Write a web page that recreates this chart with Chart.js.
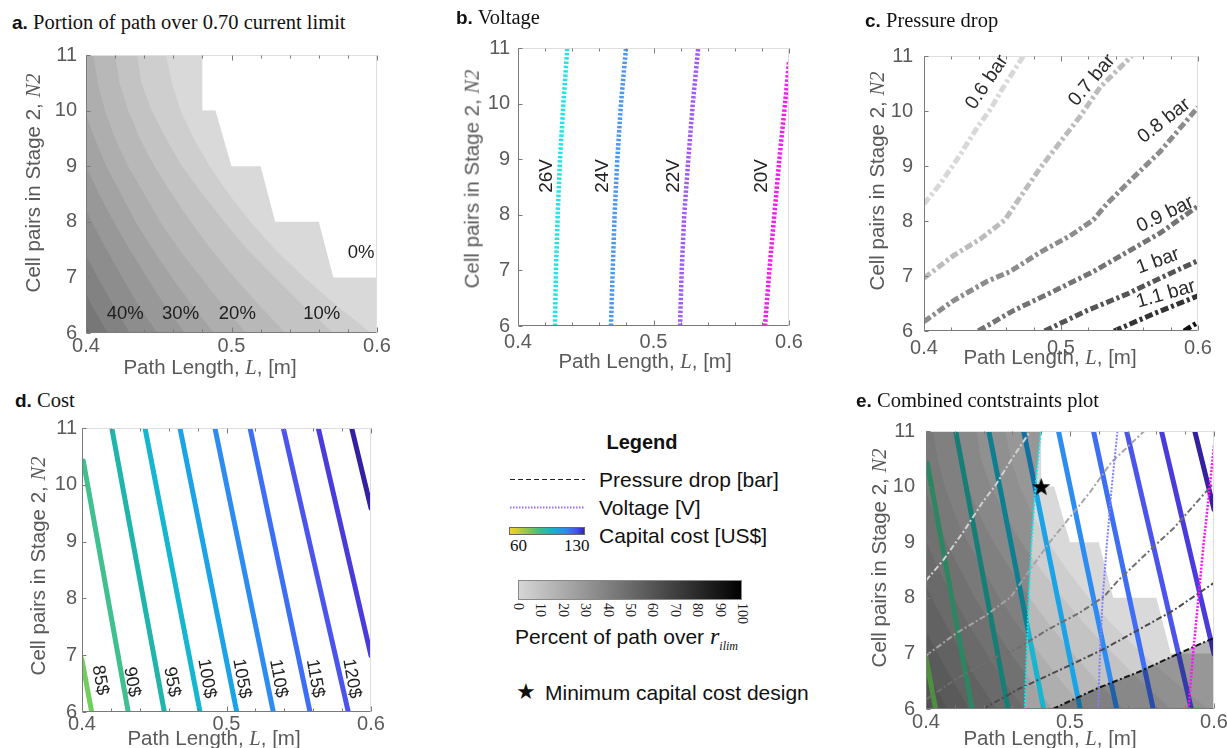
<!DOCTYPE html>
<html>
<head>
<meta charset="utf-8">
<title>Stage 2 design constraints</title>
<script src="https://cdn.jsdelivr.net/npm/chart.js@4.4.1/dist/chart.umd.min.js"></script>
<style>
  html, body { margin: 0; background: #fff; }
  #fig { position: relative; width: 1227px; height: 748px; overflow: hidden;
         font-family: "Liberation Sans", Arial, sans-serif; color: #111; }
  #fig canvas { position: absolute; z-index: 1; }
  .txt { position: absolute; white-space: nowrap; line-height: 1; z-index: 2; }
  .ttl { font-family: "Liberation Serif", "Times New Roman", serif; font-size: 20.5px; color: #111; }
  .ttl b { font-family: "Liberation Sans", Arial, sans-serif; font-size: 19px; }
  .ser { font-family: "Liberation Serif", "Times New Roman", serif; font-style: italic; }
  .ax { font-size: 20.5px; color: #595959; transform: translate(-50%, -50%); }
  .ay { font-size: 20.5px; color: #595959; transform: translate(-50%, -50%) rotate(-90deg); }
  .lg { font-size: 21px; color: #111; transform: translateY(-50%); }
  .cbt { font-family: "Liberation Serif", "Times New Roman", serif; font-size: 14px; color: #222;
         writing-mode: vertical-rl; transform: translateX(-50%); }
</style>
</head>
<body>
<div id="fig">
  <!-- panel titles -->
  <div class="txt ttl" style="left:12px;top:12px"><b>a.</b> Portion of path over 0.70 current limit</div>
  <div class="txt ttl" style="left:456px;top:7px"><b>b.</b> Voltage</div>
  <div class="txt ttl" style="left:865px;top:10px"><b>c.</b> Pressure drop</div>
  <div class="txt ttl" style="left:15px;top:390px"><b>d.</b> Cost</div>
  <div class="txt ttl" style="left:856px;top:390px"><b>e.</b> Combined contstraints plot</div>

  <!-- axis titles -->
  <div class="txt ax" style="left:210px;top:367px">Path Length, <span class="ser">L</span>, [m]</div>
  <div class="txt ay" style="left:33px;top:183px">Cell pairs in Stage 2, <span class="ser">N2</span></div>
  <div class="txt ax" style="left:645px;top:361px">Path Length, <span class="ser">L</span>, [m]</div>
  <div class="txt ay" style="left:472px;top:179px">Cell pairs in Stage 2, <span class="ser">N2</span></div>
  <div class="txt ax" style="left:1050px;top:357px">Path Length, <span class="ser">L</span>, [m]</div>
  <div class="txt ay" style="left:877px;top:181px">Cell pairs in Stage 2, <span class="ser">N2</span></div>
  <div class="txt ax" style="left:214px;top:738px">Path Length, <span class="ser">L</span>, [m]</div>
  <div class="txt ay" style="left:38px;top:566px">Cell pairs in Stage 2, <span class="ser">N2</span></div>
  <div class="txt ax" style="left:1050px;top:738px">Path Length, <span class="ser">L</span>, [m]</div>
  <div class="txt ay" style="left:879px;top:558px">Cell pairs in Stage 2, <span class="ser">N2</span></div>

  <!-- legend -->
  <div class="txt" style="left:642px;top:442px;transform:translate(-50%,-50%);font-weight:bold;font-size:20px">Legend</div>
  <svg class="txt" style="left:505px;top:470px" width="90" height="50">
    <line x1="5" y1="9.5" x2="80" y2="9.5" stroke="#222" stroke-width="1.2" stroke-dasharray="5 3"/>
    <line x1="5" y1="37.5" x2="80" y2="37.5" stroke="#9a6cff" stroke-width="2" stroke-dasharray="1.5 1.5"/>
  </svg>
  <div class="txt lg" style="left:599px;top:479px">Pressure drop [bar]</div>
  <div class="txt lg" style="left:599px;top:507px">Voltage [V]</div>
  <div class="txt lg" style="left:599px;top:535px">Capital cost [US$]</div>
  <div class="txt" style="left:509px;top:527px;width:76px;height:8px;box-sizing:border-box;border:1px solid #666;
       background:linear-gradient(to right,#f9d423,#9cc843 20%,#3dbf86 40%,#14b3c4 58%,#2b8cf0 75%,#4552e8 90%,#3526a6)"></div>
  <div class="txt ser" style="left:510px;top:537px;font-size:17px;font-style:normal">60</div>
  <div class="txt ser" style="left:564px;top:537px;font-size:17px;font-style:normal">130</div>
  <div class="txt" style="left:518px;top:580px;width:224px;height:20px;box-sizing:border-box;border:1px solid #888;
       background:linear-gradient(to right,#d6d6d6,#000)"></div>
  <div id="cbticks"></div>
  <div class="txt lg" style="left:515px;top:638px">Percent of path over <span class="ser" style="font-size:24px">r</span><sub class="ser" style="font-size:12px">ilim</sub></div>
  <div class="txt lg" style="left:516px;top:692px;font-size:22px">&#9733;</div>
  <div class="txt lg" style="left:545px;top:692px">Minimum capital cost design</div>
</div>

<script>
// ---------- axes ----------
const X_TICKS = [0.4, 0.5, 0.6];
const Y_TICKS = [6, 7, 8, 9, 10, 11];
const CB_TICKS = [0, 10, 20, 30, 40, 50, 60, 70, 80, 90, 100];

// ---------- a. portion of path over current limit (contour bands) ----------
const ZERO_EDGE_N = [11, 10, 10, 9, 9, 8, 8, 7, 7, 6];
const ZERO_EDGE_L = [0.48, 0.48, 0.489, 0.50, 0.52, 0.53, 0.56, 0.57, 0.60, 0.60];
const CONTOUR_N = [11, 10.5, 10, 9.5, 9, 8.5, 8, 7.5, 7, 6.5, 6];
const CONTOUR_LEVELS = [5, 10, 15, 20, 25, 30, 35, 40, 45, 50];
const C05_L = [0.455, 0.459, 0.465, 0.474, 0.485, 0.498, 0.513, 0.530, 0.550, 0.572, 0.596];
const C10_L = [0.435, 0.438, 0.445, 0.455, 0.466, 0.480, 0.495, 0.511, 0.530, 0.549, 0.570];
const C15_L = [0.420, 0.423, 0.429, 0.437, 0.447, 0.459, 0.472, 0.486, 0.502, 0.519, 0.537];
const C20_L = [0.405, 0.408, 0.413, 0.420, 0.429, 0.440, 0.451, 0.464, 0.479, 0.494, 0.510];
const C25_L = [0.392, 0.394, 0.399, 0.406, 0.414, 0.424, 0.434, 0.446, 0.459, 0.473, 0.488];
const C30_L = [0.380, 0.382, 0.387, 0.393, 0.400, 0.409, 0.419, 0.430, 0.442, 0.454, 0.468];
const C35_L = [0.368, 0.370, 0.374, 0.380, 0.387, 0.395, 0.404, 0.414, 0.425, 0.436, 0.449];
const C40_L = [0.356, 0.358, 0.362, 0.367, 0.373, 0.380, 0.389, 0.398, 0.408, 0.419, 0.430];
const C45_L = [0.345, 0.347, 0.350, 0.355, 0.361, 0.368, 0.376, 0.385, 0.394, 0.404, 0.415];
const C50_L = [0.334, 0.336, 0.339, 0.344, 0.350, 0.357, 0.364, 0.373, 0.382, 0.392, 0.403];
const CONTOUR_L = [C05_L, C10_L, C15_L, C20_L, C25_L, C30_L, C35_L, C40_L, C45_L, C50_L];
const A_LABELS = ['40%', '30%', '20%', '10%', '0%'];
const A_LABEL_L = [0.427, 0.465, 0.504, 0.562, 0.589];
const A_LABEL_N = [6.35, 6.35, 6.35, 6.35, 7.44];

// ---------- b. voltage ----------
const V_N = [6, 7, 8, 9, 10, 11];
const V26_L = [0.4273, 0.4280, 0.4293, 0.4310, 0.4335, 0.4364];
const V24_L = [0.4686, 0.4699, 0.4713, 0.4733, 0.4760, 0.4797];
const V22_L = [0.5196, 0.5208, 0.5227, 0.5257, 0.5290, 0.5330];
const V20_N = [6, 7, 8, 9, 10, 10.75];
const V20_L = [0.5823, 0.5855, 0.5892, 0.5929, 0.5971, 0.6000];
const V_LABELS = ['26V', '24V', '22V', '20V'];
const V_LABEL_L = [0.4214, 0.4627, 0.5151, 0.5801];
const V_LABEL_N = [8.7, 8.7, 8.7, 8.7];

// ---------- c. pressure drop ----------
const P06_L = [0.400, 0.4117, 0.4263, 0.4396, 0.4482, 0.4579, 0.4725];
const P06_N = [8.31, 8.67, 9.20, 9.73, 10.02, 10.43, 11.0];
const P07_L = [0.400, 0.4214, 0.4409, 0.4591, 0.4701, 0.4847, 0.4993, 0.5139, 0.5285, 0.5516];
const P07_N = [6.96, 7.37, 7.67, 8.02, 8.43, 8.96, 9.43, 9.90, 10.43, 11.0];
const P08_L = [0.400, 0.4214, 0.4458, 0.4628, 0.4847, 0.5066, 0.5236, 0.5334, 0.5528, 0.5723, 0.600];
const P08_N = [6.17, 6.55, 6.90, 7.08, 7.43, 7.73, 8.02, 8.31, 8.79, 9.26, 10.07];
const P09_L = [0.4396, 0.4652, 0.4944, 0.5236, 0.5480, 0.5723, 0.600];
const P09_N = [6.0, 6.37, 6.72, 7.08, 7.43, 7.78, 8.27];
const P10_L = [0.488, 0.5188, 0.548, 0.5723, 0.600];
const P10_N = [6.0, 6.37, 6.67, 6.96, 7.28];
const P11_L = [0.5387, 0.5674, 0.600];
const P11_N = [6.0, 6.31, 6.64];
const P12_L = [0.5898, 0.600];
const P12_N = [6.0, 6.16];
const P_LABELS = ['0.6 bar', '0.7 bar', '0.8 bar', '0.9 bar', '1 bar', '1.1 bar'];
const P_LABEL_L = [0.446, 0.5226, 0.5752, 0.576, 0.5708, 0.5766];
const P_LABEL_N = [10.52, 10.56, 9.82, 8.12, 7.27, 6.67];

// ---------- d. cost ----------
const COST_LEVELS = [85, 90, 95, 100, 105, 110, 115, 120, 125, 130];
const COST_L_TOP = [0.3998, 0.4009, 0.4206, 0.4436, 0.4678, 0.4920, 0.5163, 0.5393, 0.5635, 0.5866];
const COST_N_TOP = [6.94, 10.42, 11, 11, 11, 11, 11, 11, 11, 11];
const COST_L_BOT = [0.4067, 0.4320, 0.4570, 0.4817, 0.5071, 0.5324, 0.5578, 0.5843, 0.6000, 0.6000];
const COST_N_BOT = [6, 6, 6, 6, 6, 6, 6, 6, 6.99, 9.59];
const COST_LABELS = ['85$', '90$', '95$', '100$', '105$', '110$', '115$', '120$'];
const COST_LABEL_L = [0.4125, 0.4344, 0.4621, 0.4863, 0.5105, 0.5359, 0.5612, 0.5866];
const COST_LABEL_N = [6.56, 6.53, 6.53, 6.59, 6.59, 6.59, 6.59, 6.59];

// ---------- e. minimum cost design ----------
const STAR_L = [0.48];
const STAR_N = [10];

// ---------- styles ----------
const SANS = '"Liberation Sans", Arial, sans-serif';
const COST_COLORS = ['#6fcf5a', '#3fc08e', '#1fb5aa', '#15b6cf', '#1aa3e6', '#2d8cf2', '#3c6ef6', '#4b55ee', '#4a3cdc', '#3420a0'];
const P_COLORS = ['#d8d8d8', '#bcbcbc', '#8c8c8c', '#747474', '#555555', '#333333', '#111111'];
const P_COLORS_E = ['#d2d2d2', '#a4a4a4', '#6e6e6e', '#4a4a4a', '#151515'];
const ML = 60, MT = 15, MR = 22, MB = 34;

Chart.defaults.font.family = SANS;

const fig = document.getElementById('fig');
const gray = p => { const g = Math.round(217 * (1 - p / 100)); return `rgb(${g},${g},${g})`; };
const pts = (L, N) => L.map((v, i) => ({ x: v, y: N[i] }));

// gray colorbar tick labels
CB_TICKS.forEach((v, i) => {
  const d = document.createElement('div');
  d.className = 'txt cbt';
  d.style.left = (518 + i * 22.4) + 'px';
  d.style.top = '603px';
  d.textContent = v;
  fig.appendChild(d);
});

// box and inward tick marks, drawn over the data like the original axes
const framePlugin = {
  id: 'frame',
  afterDatasetsDraw(chart) {
    const { ctx, chartArea: a, scales: { x, y } } = chart;
    const l = Math.round(a.left) + 0.5, r = Math.round(a.right) - 0.5;
    const t = Math.round(a.top) + 0.5, b = Math.round(a.bottom) - 0.5;
    ctx.save();
    ctx.lineWidth = 1;
    ctx.strokeStyle = '#dedede';
    ctx.beginPath();
    ctx.moveTo(l, t); ctx.lineTo(r, t); ctx.lineTo(r, b);
    ctx.stroke();
    ctx.strokeStyle = '#7a7a7a';
    ctx.beginPath();
    ctx.moveTo(l, t); ctx.lineTo(l, b); ctx.lineTo(r, b);
    for (let k = 0; k <= 10; k++) {
      const px = Math.round(x.getPixelForValue(X_TICKS[0] + k * 0.02)) + 0.5;
      const len = k % 5 === 0 ? 5 : 3;
      ctx.moveTo(px, b); ctx.lineTo(px, b - len);
      ctx.moveTo(px, t); ctx.lineTo(px, t + len);
    }
    Y_TICKS.forEach(v => {
      const py = Math.round(y.getPixelForValue(v)) + 0.5;
      ctx.moveTo(l, py); ctx.lineTo(l + 4, py);
    });
    ctx.stroke();
    ctx.restore();
  }
};

// inline labels placed in data units
const labelPlugin = items => ({
  id: 'inlineLabels',
  afterDatasetsDraw(chart) {
    const { ctx, scales: { x, y } } = chart;
    ctx.save();
    ctx.textAlign = 'center';
    ctx.textBaseline = 'middle';
    items.forEach(it => {
      ctx.save();
      ctx.translate(x.getPixelForValue(it.x), y.getPixelForValue(it.y));
      ctx.rotate(it.rot * Math.PI / 180);
      ctx.font = `${it.size}px ${SANS}`;
      ctx.fillStyle = it.color;
      ctx.fillText(it.text, 0, 0);
      ctx.restore();
    });
    ctx.restore();
  }
});

function makePanel(rect, pad, layers, items) {
  const [x0, y0, x1, y1] = rect;
  const cv = document.createElement('canvas');
  cv.width = x1 - x0 + ML + MR;
  cv.height = y1 - y0 + MT + MB;
  cv.style.left = (x0 - ML) + 'px';
  cv.style.top = (y0 - MT) + 'px';
  fig.insertBefore(cv, fig.firstChild);

  // layers are listed bottom -> top
  const datasets = layers.map((d, i) => Object.assign({
    order: layers.length - i,
    pointRadius: 0,
    fill: false,
    borderWidth: 0,
    borderColor: 'rgba(0,0,0,0)',
    backgroundColor: 'rgba(0,0,0,0)'
  }, d));

  const tickFont = { family: SANS, size: 20 };
  return new Chart(cv, {
    type: 'line',
    data: { datasets },
    options: {
      responsive: false,
      animation: false,
      indexAxis: 'y',
      events: [],
      layout: { padding: { left: 0, top: MT, right: MR, bottom: 0 } },
      plugins: { legend: { display: false }, tooltip: { enabled: false } },
      elements: { line: { tension: 0 } },
      scales: {
        x: {
          type: 'linear', min: 0.4, max: 0.6,
          afterFit: s => { s.height = MB; },
          afterBuildTicks: s => { s.ticks = X_TICKS.map(v => ({ value: v })); },
          grid: { display: false, drawTicks: false },
          border: { display: false },
          ticks: { padding: pad[0], color: '#5a5a5a', font: tickFont, maxRotation: 0, autoSkip: false,
                   callback: v => v.toFixed(1) }
        },
        y: {
          type: 'linear', min: 6, max: 11,
          afterFit: s => { s.width = ML; },
          afterBuildTicks: s => { s.ticks = Y_TICKS.map(v => ({ value: v })); },
          grid: { display: false, drawTicks: false },
          border: { display: false },
          ticks: { padding: pad[1], color: '#5a5a5a', font: tickFont, autoSkip: false,
                   callback: v => String(v) }
        }
      }
    },
    plugins: [framePlugin, labelPlugin(items)]
  });
}

// contour bands (lightest first, darker ones stacked on top)
function contourLayers() {
  const out = [{ data: pts(ZERO_EDGE_L, ZERO_EDGE_N), fill: { value: 0.3 }, backgroundColor: gray(0) }];
  CONTOUR_LEVELS.forEach((lv, i) => {
    out.push({ data: pts(CONTOUR_L[i], CONTOUR_N), fill: { value: 0.3 }, backgroundColor: gray(lv) });
  });
  return out;
}

function costLayers(width) {
  return COST_LEVELS.map((c, i) => ({
    data: [{ x: COST_L_TOP[i], y: COST_N_TOP[i] }, { x: COST_L_BOT[i], y: COST_N_BOT[i] }],
    borderColor: COST_COLORS[i], borderWidth: width, borderCapStyle: 'round'
  }));
}

// ---- a ----
makePanel([86, 49, 377, 333], [1, 9], contourLayers(),
  A_LABELS.map((t, i) => ({ text: t, x: A_LABEL_L[i], y: A_LABEL_N[i], rot: 0, size: 18.5, color: '#1e1e1e' })));

// ---- b ----
const vDash = { borderWidth: 4.5, borderDash: [2.5, 1.8] };
makePanel([518, 43, 789, 326], [4, 8], [
  Object.assign({ data: pts(V26_L, V_N), borderColor: '#22e3e8' }, vDash),
  Object.assign({ data: pts(V24_L, V_N), borderColor: '#4a98f0' }, vDash),
  Object.assign({ data: pts(V22_L, V_N), borderColor: '#a25af4' }, vDash),
  Object.assign({ data: pts(V20_L, V20_N), borderColor: '#f21ef0' }, vDash)
], V_LABELS.map((t, i) => ({ text: t, x: V_LABEL_L[i], y: V_LABEL_N[i], rot: -90, size: 19, color: '#222' })));

// ---- c ----
const pSeries = [[P06_L, P06_N], [P07_L, P07_N], [P08_L, P08_N], [P09_L, P09_N], [P10_L, P10_N], [P11_L, P11_N], [P12_L, P12_N]];
const P_ROT = [-56, -50, -38, -26, -20, -16];
makePanel([924, 48, 1198, 331], [5, 11],
  pSeries.map((s, i) => ({ data: pts(s[0], s[1]), borderColor: P_COLORS[i], borderWidth: 5, borderDash: [8, 3, 3, 3] })),
  P_LABELS.map((t, i) => ({ text: t, x: P_LABEL_L[i], y: P_LABEL_N[i], rot: P_ROT[i], size: 19.5, color: '#2a2a2a' })));

// ---- d ----
makePanel([82, 426, 371, 712], [0, 5], costLayers(5),
  COST_LABELS.map((t, i) => ({ text: t, x: COST_LABEL_L[i], y: COST_LABEL_N[i], rot: 80, size: 18, color: '#222' })));

// ---- e ----
const star = document.createElement('canvas');
star.width = 19; star.height = 19;
(() => {
  const c = star.getContext('2d');
  c.fillStyle = '#000';
  c.beginPath();
  for (let k = 0; k < 10; k++) {
    const rr = k % 2 === 0 ? 9.5 : 3.9;
    const ang = -Math.PI / 2 + k * Math.PI / 5;
    const px = 9.5 + rr * Math.cos(ang), py = 10.3 + rr * Math.sin(ang);
    if (k === 0) c.moveTo(px, py); else c.lineTo(px, py);
  }
  c.closePath();
  c.fill();
})();

const eLayers = contourLayers()
  .concat(costLayers(5))
  .concat([
    { data: pts(V24_L, V_N), fill: { value: 0.3 }, backgroundColor: 'rgba(0,0,0,0.3)' },
    { data: pts(P10_L, P10_N), fill: { value: 0.7 }, backgroundColor: 'rgba(0,0,0,0.3)' }
  ])
  .concat(pSeries.slice(0, 5).map((s, i) => ({
    data: pts(s[0], s[1]), borderColor: P_COLORS_E[i], borderWidth: 2, borderDash: [6, 2.5, 2, 2.5]
  })))
  .concat([
    { data: pts(V24_L, V_N), borderColor: '#10e8f0', borderWidth: 2, borderDash: [2, 1.5] },
    { data: pts(V22_L, V_N), borderColor: '#8080ff', borderWidth: 2, borderDash: [2, 1.5] },
    { data: pts(V20_L, V20_N), borderColor: '#ff10ff', borderWidth: 2.5, borderDash: [2, 1.5] },
    { data: pts(STAR_L, STAR_N), showLine: false, pointRadius: 8, pointStyle: star }
  ]);
makePanel([926, 423, 1214, 709], [1, 11], eLayers, []);
</script>
</body>
</html>
